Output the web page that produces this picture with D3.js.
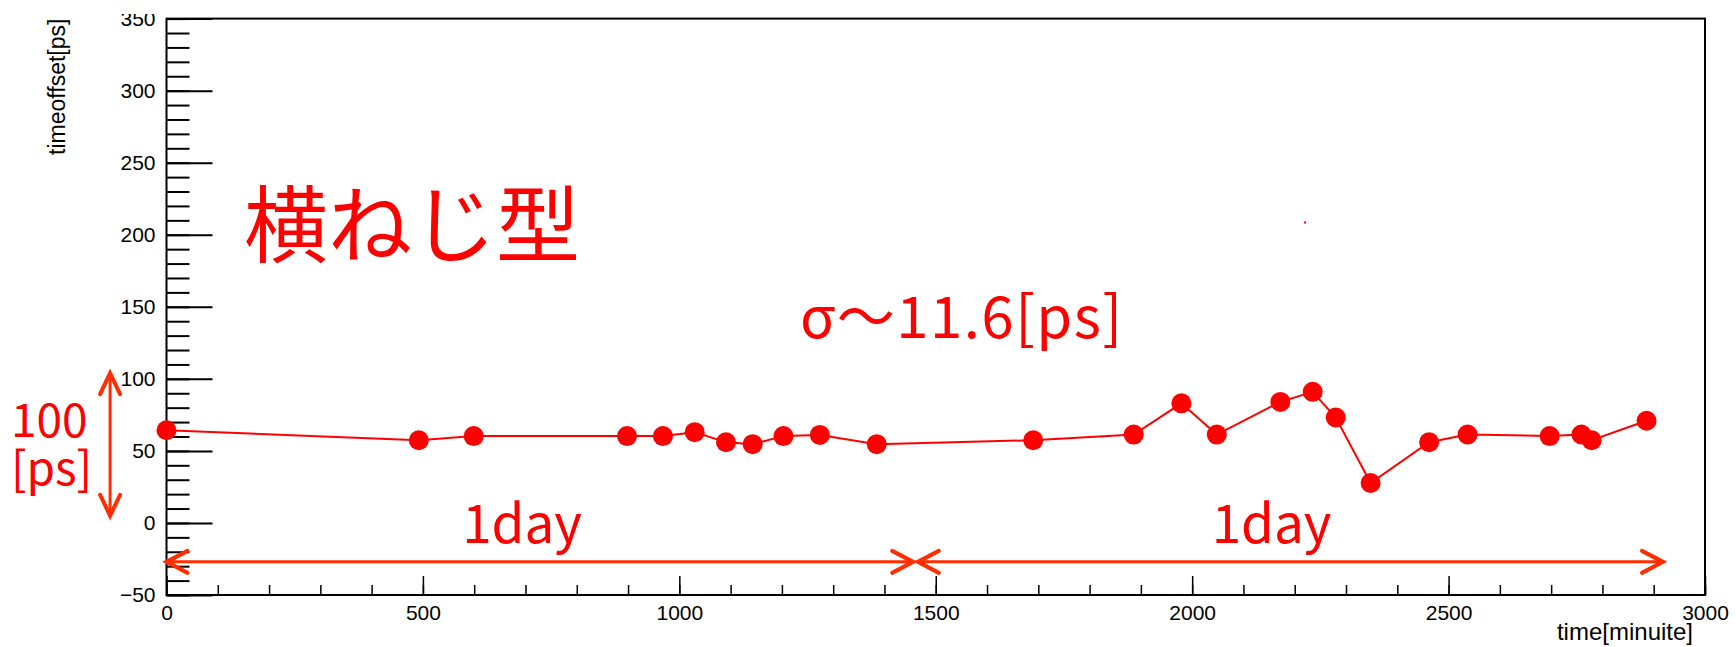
<!DOCTYPE html>
<html>
<head>
<meta charset="utf-8">
<script src="https://cdn.jsdelivr.net/npm/d3@7"></script>
<style>
  html, body { margin: 0; padding: 0; background: #fff; }
  svg { display: block; }
</style>
</head>
<body>
<svg id="chart" width="1736" height="647"></svg>
<script>
// measured points (time in minutes, offset in ps)
const timeMin = [0, 492, 599, 898, 968, 1030, 1091, 1143, 1203, 1274, 1385, 1690,
  1886, 1979, 2048, 2172, 2235, 2280, 2348, 2462, 2537, 2697, 2759, 2779, 2886];
const offsetPs = [64.3, 57.4, 60.3, 60.3, 60.3, 63.0, 56.0, 54.7, 60.3, 61.1, 54.7, 57.4,
  61.3, 83.0, 61.3, 84.0, 91.0, 73.2, 27.7, 56.0, 61.4, 60.3, 61.4, 57.4, 70.9];

const xTicks = [0, 500, 1000, 1500, 2000, 2500, 3000];
const yTicks = [-50, 0, 50, 100, 150, 200, 250, 300, 350];

// annotation arrows in data units: [x1, y1, x2, y2]
const dayArrows = [[0, -27, 1456, -27], [1465, -27, 2918, -27]];
const rangeArrow = [-110, 5, -110, 104];

const red = "#ff0000",
      arrowRed = "#ff2d00";

let svg = d3.select("#chart");

let x = d3.scaleLinear().domain([0, 3000]).range([166.5, 1705]),
    y = d3.scaleLinear().domain([-50, 350]).range([595, 18.6]);

const axisFont = "Liberation Sans, Arial, sans-serif";

// minor ticks first, majors on top
svg.append("g")
  .attr("transform", `translate(${x(0)},0)`)
  .call(d3.axisLeft(y).tickValues(d3.range(-50, 351, 10)).tickSize(-23).tickFormat(""))
  .call(g => g.select(".domain").remove())
  .call(g => g.selectAll("line").attr("stroke", "#000").attr("stroke-width", 2));

svg.append("g")
  .attr("transform", `translate(0,${y(-50)})`)
  .call(d3.axisBottom(x).tickValues(d3.range(0, 3001, 100)).tickSize(-10).tickFormat(""))
  .call(g => g.select(".domain").remove())
  .call(g => g.selectAll("line").attr("stroke", "#000").attr("stroke-width", 1.5));

svg.append("g")
  .attr("transform", `translate(${x(0)},0)`)
  .call(d3.axisLeft(y).tickValues(yTicks).tickSizeInner(-46).tickSizeOuter(0).tickPadding(11)
    .tickFormat(d => d < 0 ? "\u2212" + Math.abs(d) : d))
  .call(g => g.select(".domain").remove())
  .call(g => g.selectAll("line").attr("stroke", "#000").attr("stroke-width", 2))
  .call(g => g.selectAll("text").attr("font-family", axisFont)
    .attr("font-size", 21).attr("fill", "#000"));

svg.append("g")
  .attr("transform", `translate(0,${y(-50)})`)
  .call(d3.axisBottom(x).tickValues(xTicks).tickSizeInner(-19).tickSizeOuter(0).tickPadding(10)
    .tickFormat(d3.format("d")))
  .call(g => g.select(".domain").remove())
  .call(g => g.selectAll("line").attr("stroke", "#000").attr("stroke-width", 1.5))
  .call(g => g.selectAll("text").attr("font-family", axisFont)
    .attr("font-size", 21).attr("fill", "#000"));

// frame
svg.append("rect")
  .attr("x", x(0)).attr("y", y(350))
  .attr("width", x(3000) - x(0)).attr("height", y(-50) - y(350))
  .attr("fill", "none").attr("stroke", "#000").attr("stroke-width", 2);

// top of the screenshot cuts the 350 label
svg.append("rect").attr("x", 0).attr("y", 0).attr("width", 160).attr("height", 14).attr("fill", "#fff");

// axis titles
svg.append("text")
  .attr("transform", `translate(65,${y(350)}) rotate(-90)`)
  .attr("text-anchor", "end")
  .attr("font-family", axisFont)
  .attr("font-size", 23)
  .text("timeoffset[ps]");

svg.append("text")
  .attr("x", 1693).attr("y", 640)
  .attr("text-anchor", "end")
  .attr("font-family", axisFont)
  .attr("font-size", 24)
  .text("time[minuite]");

// data line + markers
let pts = timeMin.map((t, i) => [t, offsetPs[i]]);

svg.append("path")
  .datum(pts)
  .attr("d", d3.line().x(d => x(d[0])).y(d => y(d[1])))
  .attr("fill", "none").attr("stroke", red).attr("stroke-width", 2);

svg.append("g").selectAll("circle")
  .data(pts)
  .join("circle")
  .attr("cx", d => x(d[0])).attr("cy", d => y(d[1]))
  .attr("r", 10).attr("fill", red);

// stray dot in the original
svg.append("rect").attr("x", 1304).attr("y", 221.5).attr("width", 2).attr("height", 2).attr("fill", red);

// arrows
function arrow(a, head) {
  let [x1, y1, x2, y2] = a,
      p1 = [x(x1), y(y1)],
      p2 = [x(x2), y(y2)];

  svg.append("line")
    .attr("x1", p1[0]).attr("y1", p1[1]).attr("x2", p2[0]).attr("y2", p2[1])
    .attr("stroke", arrowRed).attr("stroke-width", 3);

  [[p1, p2], [p2, p1]].forEach(([tip, from]) => {
    let ang = Math.atan2(from[1] - tip[1], from[0] - tip[0]),
        l = head[0], w = head[1],
        ca = Math.cos(ang), sa = Math.sin(ang),
        a1 = [tip[0] + l * ca - w * sa, tip[1] + l * sa + w * ca],
        a2 = [tip[0] + l * ca + w * sa, tip[1] + l * sa - w * ca];

    svg.append("polyline")
      .attr("points", [a1, tip, a2].map(p => p.join(",")).join(" "))
      .attr("fill", "none").attr("stroke", arrowRed)
      .attr("stroke-width", 4).attr("stroke-linecap", "round");
  });
}

dayArrows.forEach(a => arrow(a, [21, 11]));
arrow(rangeArrow, [21, 10]);

// annotations
const jp = "'Noto Sans CJK JP', 'Noto Sans', sans-serif";

svg.append("text")
  .attr("x", 244).attr("y", 256)
  .attr("font-family", jp).attr("font-size", 84).attr("fill", red)
  .text("横ねじ型");

svg.append("text")
  .attr("x", 800).attr("y", 338)
  .attr("font-family", jp).attr("font-size", 58).attr("fill", red)
  .attr("textLength", 322).attr("lengthAdjust", "spacing")
  .text("σ～11.6[ps]");

[[522, "1day"], [1271.5, "1day"]].forEach(([cx, t]) => {
  svg.append("text")
    .attr("x", cx).attr("y", 543)
    .attr("text-anchor", "middle")
    .attr("font-family", jp).attr("font-size", 53).attr("fill", red)
    .text(t);
});

svg.append("text")
  .attr("x", 11).attr("y", 437)
  .attr("font-family", jp).attr("font-size", 46).attr("fill", red)
  .text("100");

svg.append("text")
  .attr("x", 11).attr("y", 485)
  .attr("font-family", jp).attr("font-size", 46).attr("fill", red)
  .text("[ps]");
</script>
</body>
</html>
